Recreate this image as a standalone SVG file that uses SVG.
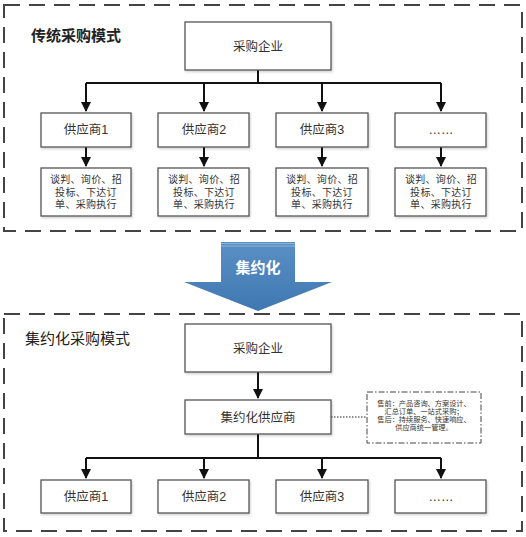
<svg xmlns="http://www.w3.org/2000/svg" width="526" height="537" viewBox="0 0 526 537">
<defs>
<style>
text{font-family:"Liberation Sans","Noto Sans CJK SC",sans-serif;fill:#333;text-anchor:middle}
.frame{fill:none;stroke:#444;stroke-width:2;stroke-dasharray:16 9}
.box{fill:#fff;stroke:#555;stroke-width:1.3}
.conn{fill:none;stroke:#111;stroke-width:2}
.lbl{font-size:12.5px}
.det{font-size:10px;letter-spacing:0.3px}
.note{font-size:7.2px}
.title{font-size:15px;text-anchor:start;fill:#222}
</style>
<marker id="ah" viewBox="0 0 10 10" refX="9" refY="5" markerWidth="5" markerHeight="5" orient="auto" markerUnits="strokeWidth">
<path d="M0,0 L10,5 L0,10 z" fill="#111"/>
</marker>
<linearGradient id="blue" x1="0" y1="0" x2="0" y2="1">
<stop offset="0" stop-color="#5a8fc4"/>
<stop offset="1" stop-color="#3f78b2"/>
</linearGradient>
<filter id="sh" x="-10%" y="-10%" width="130%" height="140%">
<feDropShadow dx="1" dy="1.5" stdDeviation="1" flood-color="#000" flood-opacity="0.18"/>
</filter>
</defs>

<rect class="frame" x="4" y="5" width="518" height="226"/>
<text class="title" x="31" y="41" font-weight="bold">传统采购模式</text>

<rect class="frame" x="4" y="314" width="518" height="217"/>
<text class="title" x="25" y="344">集约化采购模式</text>

<g id="arrow-jiyue">
<path d="M221,242 H295 V282 H332 L258,311 L184,282 H221 Z" fill="url(#blue)"/>
<path d="M221,243.5 H295 M221,246 H295" stroke="#9cbde0" stroke-width="0.8"/>
<text x="258" y="273" style="font-size:15px;font-weight:bold;fill:#fff">集约化</text>
</g>

<g id="connectors">
<path class="conn" d="M258,70 V83 M86,83 H441"/>
<path class="conn" d="M86,83 V111" marker-end="url(#ah)"/>
<path class="conn" d="M204,83 V111" marker-end="url(#ah)"/>
<path class="conn" d="M322,83 V111" marker-end="url(#ah)"/>
<path class="conn" d="M441,83 V111" marker-end="url(#ah)"/>
<path class="conn" d="M86,147 V166" marker-end="url(#ah)"/>
<path class="conn" d="M204,147 V166" marker-end="url(#ah)"/>
<path class="conn" d="M322,147 V166" marker-end="url(#ah)"/>
<path class="conn" d="M441,147 V166" marker-end="url(#ah)"/>
<path class="conn" d="M258,372 V398" marker-end="url(#ah)"/>
<path class="conn" d="M258,434 V458 M86,458 H441"/>
<path class="conn" d="M86,458 V478" marker-end="url(#ah)"/>
<path class="conn" d="M204,458 V478" marker-end="url(#ah)"/>
<path class="conn" d="M322,458 V478" marker-end="url(#ah)"/>
<path class="conn" d="M441,458 V478" marker-end="url(#ah)"/>
<path d="M331,417 H367" fill="none" stroke="#222" stroke-width="1.2" stroke-dasharray="1.5 1.5"/>
</g>

<g id="top-buyer"><rect class="box" filter="url(#sh)" x="185" y="22" width="146" height="48"/><text class="lbl" x="258" y="51">采购企业</text></g>
<g id="top-s1"><rect class="box" filter="url(#sh)" x="41" y="113" width="90" height="34"/><text class="lbl" x="86" y="134">供应商1</text></g>
<g id="top-s2"><rect class="box" filter="url(#sh)" x="158" y="113" width="91" height="34"/><text class="lbl" x="204" y="134">供应商2</text></g>
<g id="top-s3"><rect class="box" filter="url(#sh)" x="276" y="113" width="92" height="34"/><text class="lbl" x="322" y="134">供应商3</text></g>
<g id="top-s4"><rect class="box" filter="url(#sh)" x="395" y="113" width="91" height="34"/><text class="lbl" x="441" y="134">……</text></g>

<g id="top-d1"><rect class="box" filter="url(#sh)" x="41" y="168" width="90" height="48"/><text class="det" x="86" y="183">谈判、询价、招</text><text class="det" x="86" y="195.5">投标、下达订</text><text class="det" x="86" y="208">单、采购执行</text></g>
<g id="top-d2"><rect class="box" filter="url(#sh)" x="158" y="168" width="91" height="48"/><text class="det" x="204" y="183">谈判、询价、招</text><text class="det" x="204" y="195.5">投标、下达订</text><text class="det" x="204" y="208">单、采购执行</text></g>
<g id="top-d3"><rect class="box" filter="url(#sh)" x="276" y="168" width="92" height="48"/><text class="det" x="322" y="183">谈判、询价、招</text><text class="det" x="322" y="195.5">投标、下达订</text><text class="det" x="322" y="208">单、采购执行</text></g>
<g id="top-d4"><rect class="box" filter="url(#sh)" x="395" y="168" width="91" height="48"/><text class="det" x="441" y="183">谈判、询价、招</text><text class="det" x="441" y="195.5">投标、下达订</text><text class="det" x="441" y="208">单、采购执行</text></g>

<g id="bot-buyer"><rect class="box" filter="url(#sh)" x="185" y="324" width="146" height="48"/><text class="lbl" x="258" y="353">采购企业</text></g>
<g id="bot-agg"><rect class="box" filter="url(#sh)" x="185" y="400" width="146" height="34"/><text class="lbl" x="258" y="421.5">集约化供应商</text></g>
<g id="bot-note"><rect x="367" y="392" width="114" height="51" fill="#fff" stroke="#444" stroke-width="1" stroke-dasharray="6 2 1.5 2"/>
<text class="note" x="424" y="405.5">售前：产品咨询、方案设计、</text>
<text class="note" x="424" y="413.5">汇总订单、一站式采购；</text>
<text class="note" x="424" y="421.5">售后：持续服务、快速响应、</text>
<text class="note" x="424" y="429.5">供应商统一管理。</text></g>
<g id="bot-s1"><rect class="box" filter="url(#sh)" x="41" y="480" width="90" height="33"/><text class="lbl" x="86" y="501">供应商1</text></g>
<g id="bot-s2"><rect class="box" filter="url(#sh)" x="158" y="480" width="91" height="33"/><text class="lbl" x="204" y="501">供应商2</text></g>
<g id="bot-s3"><rect class="box" filter="url(#sh)" x="276" y="480" width="92" height="33"/><text class="lbl" x="322" y="501">供应商3</text></g>
<g id="bot-s4"><rect class="box" filter="url(#sh)" x="395" y="480" width="91" height="33"/><text class="lbl" x="441" y="501">……</text></g>
</svg>
